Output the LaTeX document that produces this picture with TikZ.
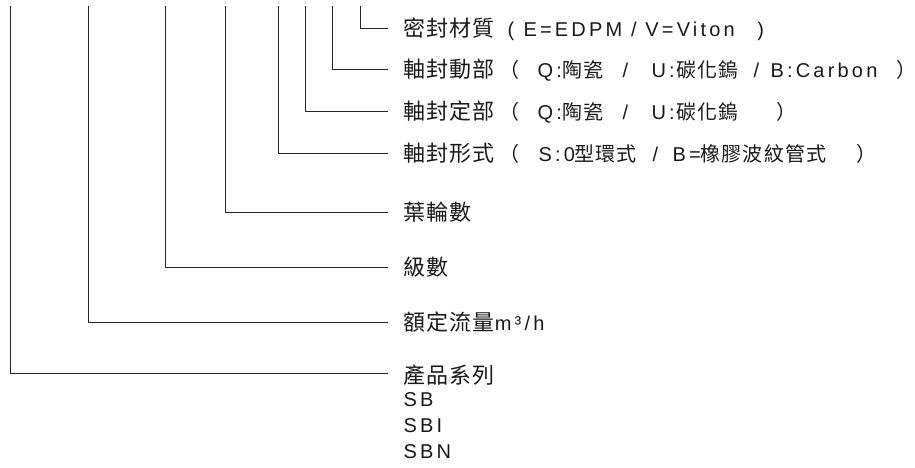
\documentclass[tikz,border=0pt]{standalone}
\usepackage{fontspec}
\setmainfont{Liberation Sans}[LetterSpace=16]
\newfontfamily\cjk{Noto Sans CJK TC}
\newfontfamily\cjkt{Noto Sans CJK TC}[LetterSpace=6]
\newfontfamily\cjkb{Noto Sans CJK TC}[LetterSpace=5]
\newcommand{\zh}[1]{{\fontsize{20}{26}\selectfont\cjk #1}}
\newcommand{\zht}[1]{{\fontsize{20}{26}\selectfont\cjkt #1}}
\newcommand{\zhb}[1]{{\fontsize{22}{26}\selectfont\cjkb #1}}
\newcommand{\pc}[2]{\makebox[#1][l]{#2}}
\usetikzlibrary{positioning}

\begin{document}
\begin{tikzpicture}[x=1pt,y=-1pt,line width=1pt,draw=black!85,
                    font=\fontsize{20}{26}\selectfont]
\tikzstyle{lbl}=[anchor=west,inner sep=0pt,text=black!90]
\tikzset{elbow/.style={to path={(\tikztostart) |- ([xshift=-15pt,yshift=#1]\tikztotarget.west)}},
         elbow/.default=0pt}
\useasboundingbox (0,0) rectangle (915,468);

% tops of the code positions
\coordinate	(tSer)	at (10,6);
\coordinate	(tFlow)	at (88,6);
\coordinate	(tStage)	at (165,6);
\coordinate	(tImp)	at (225,6);
\coordinate	(tType)	at (278,6);
\coordinate	(tFix)	at (305,6);
\coordinate	(tRot)	at (332,6);
\coordinate	(tMat)	at (360,6);

\node[lbl]	(mat)	at (403,29)	{\pc{104pt}{\zhb{密封材質}}\pc{16pt}{(}\pc{234pt}{E=EDPM / V=Viton})};
\node[lbl]	(rot)	at (403,70)	{\pc{96pt}{\zhb{軸封動部}}\pc{38pt}{\zh{（}}\pc{25pt}{Q:}\pc{60pt}{\zht{陶瓷}}\pc{29pt}{/}\pc{25pt}{U:}%
	\pc{77pt}{\zht{碳化鎢}}\pc{17pt}{/}\pc{126pt}{B:Carbon}\pc{11pt}{\zh{）}}};
\node[lbl]	(fix)	at (403,112)	{\pc{96pt}{\zhb{軸封定部}}\pc{38pt}{\zh{（}}\pc{25pt}{Q:}\pc{60pt}{\zht{陶瓷}}\pc{29pt}{/}\pc{25pt}{U:}%
	\pc{100pt}{\zht{碳化鎢}}\pc{11pt}{\zh{）}}};
\node[lbl]	(type)	at (403,153)	{\pc{96pt}{\zhb{軸封形式}}\pc{39pt}{\zh{（}}\pc{36pt}{S:0}\pc{78pt}{\zht{型環式}}\pc{20pt}{/}\pc{28pt}{B=}%
	\pc{156pt}{\zht{橡膠波紋管式}}\pc{11pt}{\zh{）}}};
\node[lbl]	(imp)	at (403,212)	{\zhb{葉輪數}};
\node[lbl]	(stage)	at (403,267)	{\zhb{級數}};
\node[lbl]	(flow)	at (403,322)	{\zhb{額定流量}m³/h};
\node[lbl]	(ser)	at (403,375)	{\zhb{產品系列}};
\node[lbl,align=left]	(codes)	[below=6pt of ser.south west,anchor=north west]	{SB\\SBI\\SBN};

\path	(tMat)	edge[elbow]	(mat)
	(tRot)	edge[elbow]	(rot)
	(tFix)	edge[elbow]	(fix)
	(tType)	edge[elbow]	(type)
	(tImp)	edge[elbow]	(imp)
	(tStage)	edge[elbow]	(stage)
	(tFlow)	edge[elbow]	(flow)
	(tSer)	edge[elbow=2pt]	(ser);

\end{tikzpicture}
\end{document}
